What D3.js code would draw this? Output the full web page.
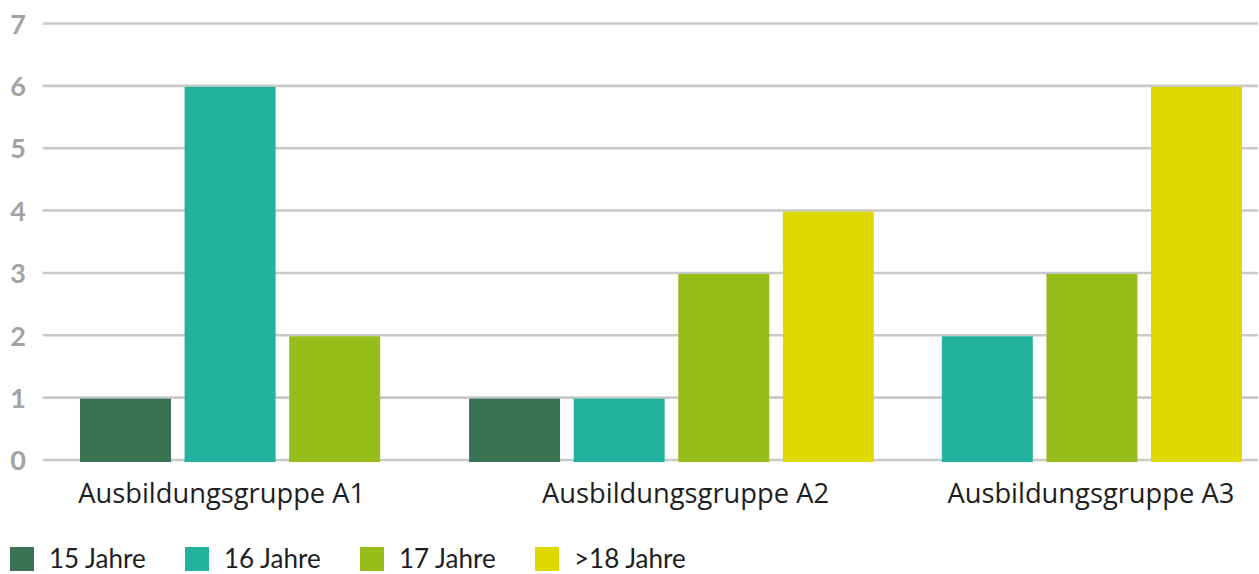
<!DOCTYPE html>
<html>
<head>
<meta charset="utf-8">
<script src="https://cdn.jsdelivr.net/npm/d3@7"></script>
<style>
  html, body { margin: 0; padding: 0; background: #fff; }
  svg { display: block; }
</style>
</head>
<body>
<svg id="chart" width="1259" height="574"></svg>
<script>
// ---- data ----
const categories = ["Ausbildungsgruppe A1", "Ausbildungsgruppe A2", "Ausbildungsgruppe A3"];
const seriesNames = ["15 Jahre", "16 Jahre", "17 Jahre", ">18 Jahre"];
const values15 = [1, 1, 0];
const values16 = [6, 1, 2];
const values17 = [2, 3, 3];
const values18 = [0, 4, 6];
const yTicks = [0, 1, 2, 3, 4, 5, 6, 7];

// ---- style / layout ----
const colors = ["#3a7354", "#22b29d", "#96bd1a", "#dfd900"];
const plotLeft = 42.7, plotRight = 1258;
const yTop = 23.5, yBottom = 460;
const barFrac = 0.87;            // bar width as share of one slot
const groupGap = [0, 0.72, 0.52]; // gap (in slots) before each group
const labelShift = [-0.08, 0.135, -0.01];
const catFont = "'Open Sans', sans-serif";
const baseFont = "Lato, 'Open Sans', sans-serif";

const seriesValues = [values15, values16, values17, values18];
const svg = d3.select("#chart");

const y = d3.scaleLinear().domain([0, 7]).range([yBottom, yTop]);

// build groups: skip zero bars
let cursor = 0;
const groups = categories.map((cat, gi) => {
  cursor += groupGap[gi];
  const bars = [];
  seriesValues.forEach((vals, si) => {
    if (vals[gi] > 0) bars.push({ cat, si, value: vals[gi] });
  });
  const start = cursor;
  bars.forEach((b, i) => { b.u = start + i; });
  cursor = start + bars.length;
  return { cat, gi, start, n: bars.length, bars };
});
const lastG = groups[groups.length - 1];
const uEnd = lastG.start + lastG.n - 1 + barFrac;
const x = d3.scaleLinear().domain([0, uEnd]).range([80, 1242]);
const bw = x(barFrac) - x(0);

// gridlines
svg.append("g").selectAll("line").data(yTicks).join("line")
  .attr("x1", plotLeft).attr("x2", plotRight)
  .attr("y1", d => y(d)).attr("y2", d => y(d))
  .attr("stroke", "#c9c9c9").attr("stroke-width", 2.6);

// y axis labels
const yAxis = d3.axisLeft(y).tickValues(yTicks).tickSize(0).tickPadding(0).tickFormat(d3.format("d"));
const yg = svg.append("g").attr("transform", "translate(26,0)").call(yAxis);
yg.select(".domain").remove();
yg.selectAll("text")
  .style("font-family", baseFont)
  .attr("font-size", 27).attr("font-weight", 700).attr("fill", "#a3a3a3")
  .attr("dy", "0.36em");

// bars
const allBars = groups.flatMap(g => g.bars);
svg.append("g").selectAll("rect").data(allBars).join("rect")
  .attr("x", d => x(d.u))
  .attr("width", bw)
  .attr("y", d => y(d.value) + 1)
  .attr("height", d => y(0) - y(d.value) + 1)
  .attr("fill", d => colors[d.si]);

// category labels
svg.append("g").selectAll("text").data(groups).join("text")
  .attr("x", g => x(g.start + (g.n - 1 + barFrac) / 2 + labelShift[g.gi]))
  .attr("y", 503)
  .attr("text-anchor", "middle")
  .style("font-family", catFont)
  .attr("font-size", 27.3)
  .attr("fill", "#1e1e1e")
  .text(g => g.cat);

// legend
const lx = d3.scaleLinear().domain([0, 1]).range([10, 185]);
const leg = svg.append("g").selectAll("g").data(seriesNames).join("g")
  .attr("transform", (d, i) => `translate(${lx(i)},547)`);
leg.append("rect").attr("width", 24).attr("height", 24).attr("fill", (d, i) => colors[i]);
leg.append("text").attr("x", 39).attr("y", 21)
  .style("font-family", baseFont)
  .attr("font-size", 26).attr("fill", "#1e1e1e").text(d => d);
</script>
</body>
</html>
